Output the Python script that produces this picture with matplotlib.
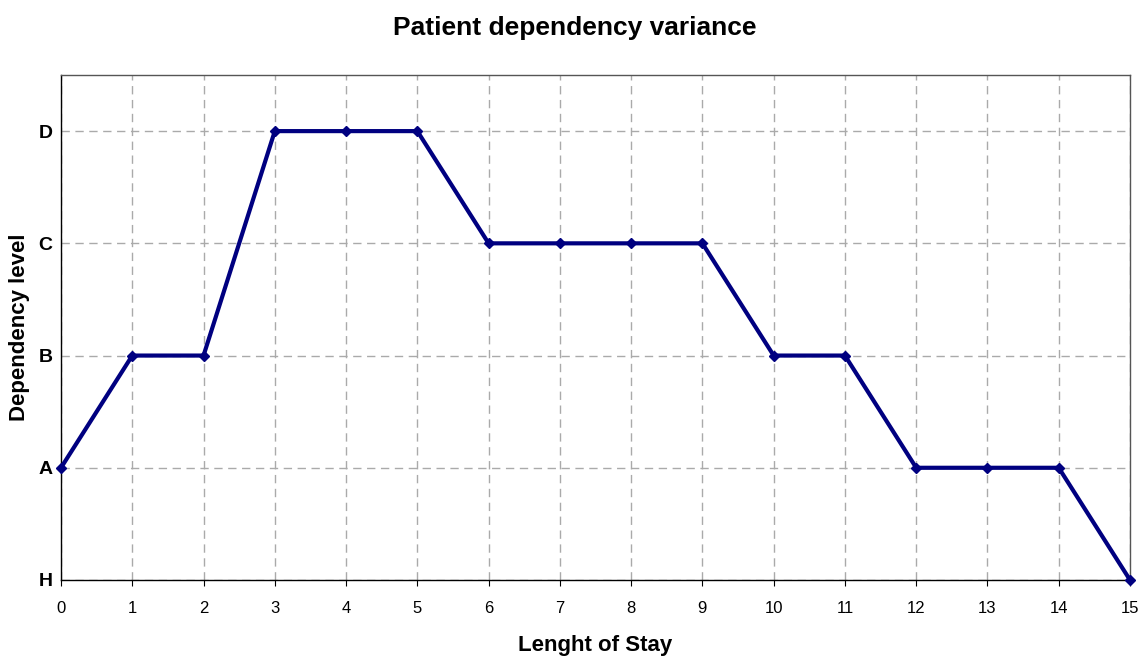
import matplotlib
matplotlib.use("Agg")
import matplotlib.pyplot as plt

days = list(range(16))
levels = [1, 2, 2, 4, 4, 4, 3, 3, 3, 3, 2, 2, 1, 1, 1, 0]
level_labels = ["H", "A", "B", "C", "D"]

plt.rcParams['font.family'] = ['Liberation Sans', 'DejaVu Sans']
W, H = 1143, 656
fig = plt.figure(figsize=(W/100, H/100), dpi=100)
ax = fig.add_axes([61/W, 76/H, (1130-61)/W, (580-75)/H])

ax.plot(days, levels, color="#000080", lw=3, marker="D", ms=5, clip_on=False, zorder=3)
ax.set_xlim(0, 15)
ax.set_ylim(0, 4.5)
ax.set_xticks(days)
ax.set_xticklabels([str(d) for d in days], fontsize=12)
ax.set_yticks(range(5))
ax.set_yticklabels(level_labels, fontsize=14, fontweight="bold")
ax.tick_params(axis="y", length=0, pad=6)
ax.tick_params(axis="x", direction="out", length=4, pad=11)
ax.grid(True, color="#aaaaaa", linestyle=(0, (6, 4)), lw=1)
for s in ax.spines.values():
    s.set_color("black")
    s.set_linewidth(1)
ax.spines["top"].set_color("#555555")
ax.spines["right"].set_color("#555555")

fig.text(595.5/W, 1 - 646/H, "Lenght of Stay", fontsize=16, fontweight="bold",
         ha="center", va="center")
fig.text(20/W, 1 - 327/H, "Dependency level", fontsize=16, fontweight="bold",
         ha="center", va="center", rotation=90)
fig.text(575/W, 1 - 28/H, "Patient dependency variance", fontsize=19, fontweight="bold",
         ha="center", va="center")

fig.savefig("out.png", dpi=100)
